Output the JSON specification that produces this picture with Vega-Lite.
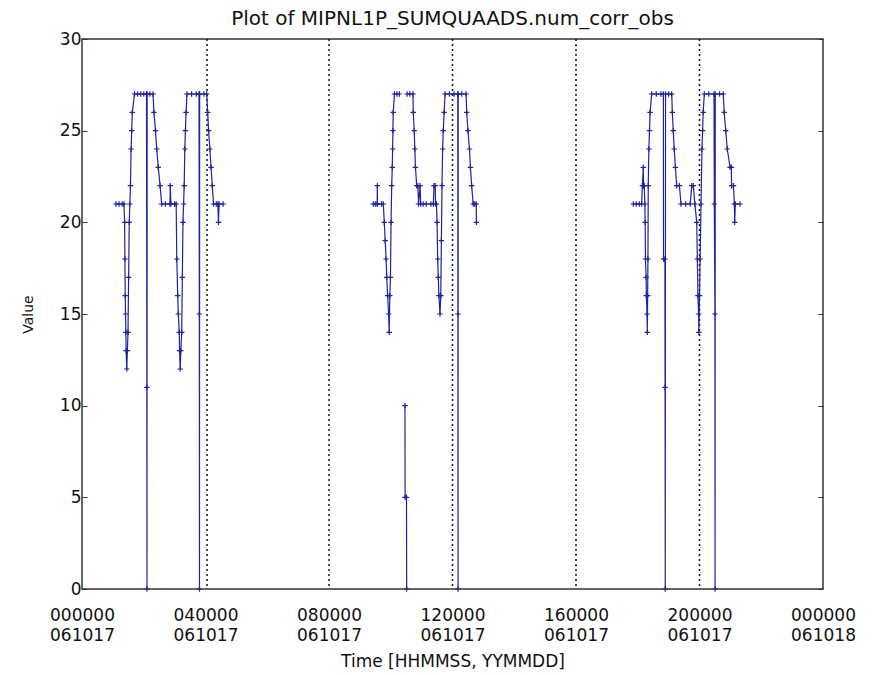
{
  "$schema": "https://vega.github.io/schema/vega-lite/v6.json",
  "width": 741,
  "height": 550,
  "autosize": {"type": "none"},
  "padding": {"left": 82, "top": 39, "right": 50, "bottom": 86},
  "background": "white",
  "title": {"text": "Plot of MIPNL1P_SUMQUAADS.num_corr_obs", "font": "DejaVu Sans", "fontSize": 20, "fontWeight": "normal", "color": "#111111", "offset": 1},
  "config": {
    "view": {"stroke": "#333333", "strokeWidth": 1.5},
    "axis": {"grid": false, "domain": false, "labelFont": "DejaVu Sans", "titleFont": "DejaVu Sans", "labelColor": "#111111", "titleColor": "#111111", "tickColor": "#333333", "titleFontWeight": "normal"}
  },
  "datasets": {
    "series": [
      {"h": 1.10, "v": 21, "s": "A"}, {"h": 1.20, "v": 21, "s": "A"}, {"h": 1.30, "v": 21, "s": "A"}, {"h": 1.36, "v": 21, "s": "A"},
      {"h": 1.38, "v": 20, "s": "A"}, {"h": 1.39, "v": 18, "s": "A"}, {"h": 1.40, "v": 16, "s": "A"}, {"h": 1.41, "v": 15, "s": "A"},
      {"h": 1.42, "v": 14, "s": "A"}, {"h": 1.43, "v": 13, "s": "A"}, {"h": 1.45, "v": 12, "s": "A"}, {"h": 1.47, "v": 13, "s": "A"},
      {"h": 1.49, "v": 14, "s": "A"}, {"h": 1.51, "v": 17, "s": "A"}, {"h": 1.53, "v": 20, "s": "A"}, {"h": 1.55, "v": 21, "s": "A"},
      {"h": 1.57, "v": 22, "s": "A"}, {"h": 1.59, "v": 24, "s": "A"}, {"h": 1.61, "v": 25, "s": "A"}, {"h": 1.63, "v": 26, "s": "A"},
      {"h": 1.70, "v": 27, "s": "A"}, {"h": 1.80, "v": 27, "s": "A"}, {"h": 1.90, "v": 27, "s": "A"}, {"h": 2.00, "v": 27, "s": "A"},
      {"h": 2.09, "v": 27, "s": "A"}, {"h": 2.10, "v": 11, "s": "A"}, {"h": 2.105, "v": 0, "s": "A"}, {"h": 2.11, "v": 27, "s": "A"},
      {"h": 2.20, "v": 27, "s": "A"}, {"h": 2.30, "v": 27, "s": "A"}, {"h": 2.33, "v": 26, "s": "A"}, {"h": 2.38, "v": 25, "s": "A"},
      {"h": 2.42, "v": 24, "s": "A"}, {"h": 2.47, "v": 23, "s": "A"}, {"h": 2.53, "v": 22, "s": "A"}, {"h": 2.58, "v": 21, "s": "A"},
      {"h": 2.70, "v": 21, "s": "A"}, {"h": 2.85, "v": 21, "s": "A"}, {"h": 2.86, "v": 22, "s": "A"}, {"h": 2.88, "v": 21, "s": "A"},
      {"h": 3.00, "v": 21, "s": "A"}, {"h": 3.05, "v": 21, "s": "A"}, {"h": 3.07, "v": 18, "s": "A"}, {"h": 3.10, "v": 16, "s": "A"},
      {"h": 3.12, "v": 15, "s": "A"}, {"h": 3.15, "v": 14, "s": "A"}, {"h": 3.16, "v": 13, "s": "A"}, {"h": 3.18, "v": 12, "s": "A"},
      {"h": 3.20, "v": 13, "s": "A"}, {"h": 3.23, "v": 14, "s": "A"}, {"h": 3.25, "v": 17, "s": "A"}, {"h": 3.27, "v": 20, "s": "A"},
      {"h": 3.29, "v": 21, "s": "A"}, {"h": 3.31, "v": 22, "s": "A"}, {"h": 3.33, "v": 24, "s": "A"}, {"h": 3.35, "v": 25, "s": "A"},
      {"h": 3.37, "v": 26, "s": "A"}, {"h": 3.40, "v": 27, "s": "A"}, {"h": 3.55, "v": 27, "s": "A"}, {"h": 3.70, "v": 27, "s": "A"},
      {"h": 3.79, "v": 27, "s": "A"}, {"h": 3.80, "v": 15, "s": "A"}, {"h": 3.805, "v": 0, "s": "A"}, {"h": 3.81, "v": 27, "s": "A"},
      {"h": 3.95, "v": 27, "s": "A"}, {"h": 4.04, "v": 27, "s": "A"}, {"h": 4.07, "v": 26, "s": "A"}, {"h": 4.10, "v": 25, "s": "A"},
      {"h": 4.14, "v": 24, "s": "A"}, {"h": 4.18, "v": 23, "s": "A"}, {"h": 4.22, "v": 22, "s": "A"}, {"h": 4.26, "v": 21, "s": "A"},
      {"h": 4.35, "v": 21, "s": "A"}, {"h": 4.40, "v": 21, "s": "A"}, {"h": 4.42, "v": 20, "s": "A"}, {"h": 4.44, "v": 21, "s": "A"},
      {"h": 4.57, "v": 21, "s": "A"},
      {"h": 9.435, "v": 21, "s": "B1"}, {"h": 9.50, "v": 21, "s": "B1"}, {"h": 9.56, "v": 21, "s": "B1"}, {"h": 9.565, "v": 22, "s": "B1"},
      {"h": 9.57, "v": 21, "s": "B1"}, {"h": 9.70, "v": 21, "s": "B1"}, {"h": 9.76, "v": 21, "s": "B1"}, {"h": 9.79, "v": 20, "s": "B1"},
      {"h": 9.82, "v": 19, "s": "B1"}, {"h": 9.85, "v": 18, "s": "B1"}, {"h": 9.87, "v": 17, "s": "B1"}, {"h": 9.90, "v": 16, "s": "B1"},
      {"h": 9.93, "v": 15, "s": "B1"}, {"h": 9.95, "v": 14, "s": "B1"}, {"h": 9.97, "v": 16, "s": "B1"}, {"h": 9.99, "v": 17, "s": "B1"},
      {"h": 10.01, "v": 20, "s": "B1"}, {"h": 10.03, "v": 22, "s": "B1"}, {"h": 10.05, "v": 23, "s": "B1"}, {"h": 10.06, "v": 24, "s": "B1"},
      {"h": 10.07, "v": 25, "s": "B1"}, {"h": 10.08, "v": 26, "s": "B1"}, {"h": 10.12, "v": 27, "s": "B1"}, {"h": 10.20, "v": 27, "s": "B1"},
      {"h": 10.28, "v": 27, "s": "B1"},
      {"h": 10.46, "v": 10, "s": "B2"}, {"h": 10.465, "v": 5, "s": "B2"}, {"h": 10.51, "v": 5, "s": "B2"}, {"h": 10.516, "v": 0, "s": "B2"},
      {"h": 10.53, "v": 27, "s": "B3"}, {"h": 10.62, "v": 27, "s": "B3"}, {"h": 10.72, "v": 27, "s": "B3"}, {"h": 10.73, "v": 26, "s": "B3"},
      {"h": 10.76, "v": 25, "s": "B3"}, {"h": 10.78, "v": 24, "s": "B3"}, {"h": 10.80, "v": 23, "s": "B3"}, {"h": 10.84, "v": 22, "s": "B3"},
      {"h": 10.88, "v": 22, "s": "B3"}, {"h": 10.90, "v": 21, "s": "B3"}, {"h": 10.95, "v": 22, "s": "B3"}, {"h": 10.97, "v": 21, "s": "B3"},
      {"h": 11.05, "v": 21, "s": "B3"}, {"h": 11.15, "v": 21, "s": "B3"}, {"h": 11.30, "v": 21, "s": "B3"}, {"h": 11.38, "v": 21, "s": "B3"},
      {"h": 11.40, "v": 22, "s": "B3"}, {"h": 11.44, "v": 22, "s": "B3"}, {"h": 11.45, "v": 21, "s": "B3"}, {"h": 11.48, "v": 21, "s": "B3"},
      {"h": 11.50, "v": 20, "s": "B3"}, {"h": 11.52, "v": 18, "s": "B3"}, {"h": 11.54, "v": 17, "s": "B3"}, {"h": 11.56, "v": 16, "s": "B3"},
      {"h": 11.595, "v": 15, "s": "B3"}, {"h": 11.62, "v": 16, "s": "B3"}, {"h": 11.64, "v": 19, "s": "B3"}, {"h": 11.66, "v": 22, "s": "B3"},
      {"h": 11.68, "v": 24, "s": "B3"}, {"h": 11.70, "v": 25, "s": "B3"}, {"h": 11.73, "v": 26, "s": "B3"}, {"h": 11.76, "v": 27, "s": "B3"},
      {"h": 11.90, "v": 27, "s": "B3"}, {"h": 12.05, "v": 27, "s": "B3"}, {"h": 12.17, "v": 27, "s": "B3"}, {"h": 12.175, "v": 15, "s": "B3"},
      {"h": 12.18, "v": 0, "s": "B3"}, {"h": 12.185, "v": 27, "s": "B3"}, {"h": 12.30, "v": 27, "s": "B3"}, {"h": 12.44, "v": 27, "s": "B3"},
      {"h": 12.46, "v": 26, "s": "B3"}, {"h": 12.50, "v": 25, "s": "B3"}, {"h": 12.55, "v": 24, "s": "B3"}, {"h": 12.58, "v": 23, "s": "B3"},
      {"h": 12.62, "v": 22, "s": "B3"}, {"h": 12.67, "v": 21, "s": "B3"}, {"h": 12.72, "v": 21, "s": "B3"}, {"h": 12.77, "v": 21, "s": "B3"},
      {"h": 12.775, "v": 20, "s": "B3"},
      {"h": 17.856, "v": 21, "s": "C"}, {"h": 17.95, "v": 21, "s": "C"}, {"h": 18.05, "v": 21, "s": "C"}, {"h": 18.126, "v": 21, "s": "C"},
      {"h": 18.15, "v": 22, "s": "C"}, {"h": 18.18, "v": 23, "s": "C"}, {"h": 18.19, "v": 22, "s": "C"}, {"h": 18.21, "v": 22, "s": "C"},
      {"h": 18.23, "v": 21, "s": "C"}, {"h": 18.24, "v": 20, "s": "C"}, {"h": 18.25, "v": 18, "s": "C"}, {"h": 18.27, "v": 17, "s": "C"},
      {"h": 18.28, "v": 16, "s": "C"}, {"h": 18.30, "v": 15, "s": "C"}, {"h": 18.31, "v": 14, "s": "C"}, {"h": 18.32, "v": 16, "s": "C"},
      {"h": 18.33, "v": 18, "s": "C"}, {"h": 18.34, "v": 22, "s": "C"}, {"h": 18.36, "v": 24, "s": "C"}, {"h": 18.38, "v": 25, "s": "C"},
      {"h": 18.40, "v": 26, "s": "C"}, {"h": 18.45, "v": 27, "s": "C"}, {"h": 18.60, "v": 27, "s": "C"}, {"h": 18.75, "v": 27, "s": "C"},
      {"h": 18.83, "v": 27, "s": "C"}, {"h": 18.835, "v": 18, "s": "C"}, {"h": 18.88, "v": 18, "s": "C"}, {"h": 18.885, "v": 11, "s": "C"},
      {"h": 18.89, "v": 0, "s": "C"}, {"h": 18.90, "v": 27, "s": "C"}, {"h": 19.00, "v": 27, "s": "C"}, {"h": 19.10, "v": 27, "s": "C"},
      {"h": 19.12, "v": 26, "s": "C"}, {"h": 19.15, "v": 25, "s": "C"}, {"h": 19.18, "v": 24, "s": "C"}, {"h": 19.22, "v": 23, "s": "C"},
      {"h": 19.26, "v": 22, "s": "C"}, {"h": 19.35, "v": 22, "s": "C"}, {"h": 19.40, "v": 21, "s": "C"}, {"h": 19.55, "v": 21, "s": "C"},
      {"h": 19.70, "v": 21, "s": "C"}, {"h": 19.75, "v": 22, "s": "C"}, {"h": 19.80, "v": 22, "s": "C"}, {"h": 19.85, "v": 21, "s": "C"},
      {"h": 19.91, "v": 20, "s": "C"}, {"h": 19.93, "v": 18, "s": "C"}, {"h": 19.95, "v": 16, "s": "C"}, {"h": 19.97, "v": 15, "s": "C"},
      {"h": 19.98, "v": 14, "s": "C"}, {"h": 20.00, "v": 16, "s": "C"}, {"h": 20.02, "v": 18, "s": "C"}, {"h": 20.05, "v": 21, "s": "C"},
      {"h": 20.08, "v": 24, "s": "C"}, {"h": 20.10, "v": 25, "s": "C"}, {"h": 20.12, "v": 26, "s": "C"}, {"h": 20.156, "v": 27, "s": "C"},
      {"h": 20.30, "v": 27, "s": "C"}, {"h": 20.47, "v": 27, "s": "C"}, {"h": 20.48, "v": 21, "s": "C"}, {"h": 20.50, "v": 15, "s": "C"},
      {"h": 20.505, "v": 0, "s": "C"}, {"h": 20.51, "v": 27, "s": "C"}, {"h": 20.65, "v": 27, "s": "C"}, {"h": 20.77, "v": 27, "s": "C"},
      {"h": 20.80, "v": 26, "s": "C"}, {"h": 20.85, "v": 25, "s": "C"}, {"h": 20.90, "v": 24, "s": "C"}, {"h": 20.99, "v": 23, "s": "C"},
      {"h": 21.03, "v": 23, "s": "C"}, {"h": 21.04, "v": 22, "s": "C"}, {"h": 21.10, "v": 22, "s": "C"}, {"h": 21.13, "v": 21, "s": "C"},
      {"h": 21.14, "v": 20, "s": "C"}, {"h": 21.16, "v": 21, "s": "C"}, {"h": 21.31, "v": 21, "s": "C"}
    ],
    "dividers": [{"h": 4.05}, {"h": 8.0}, {"h": 12.0}, {"h": 16.0}, {"h": 20.0}]
  },
  "resolve": {"axis": {"y": "independent"}},
  "layer": [
    {
      "data": {"name": "dividers"},
      "mark": {"type": "rule", "color": "#111111", "strokeDash": [2, 3], "strokeWidth": 1.5},
      "encoding": {
        "x": {"field": "h", "type": "quantitative", "scale": {"domain": [0, 24], "nice": false, "zero": false}}
      }
    },
    {
      "data": {"name": "series"},
      "mark": {"type": "line", "color": "#22229c", "strokeWidth": 1.2},
      "encoding": {
        "x": {"field": "h", "type": "quantitative", "scale": {"domain": [0, 24], "nice": false, "zero": false},
          "axis": {"values": [0, 4, 8, 12, 16, 20, 24], "labelExpr": "datum.value == 24 ? ['000000','061018'] : [(datum.value < 10 ? '0' : '') + datum.value + '0000', '061017']", "tickSize": 0, "labelPadding": 18, "labelFontSize": 17, "labelLineHeight": 20, "labelFlush": false, "title": "Time [HHMMSS, YYMMDD]", "titleFontSize": 17, "titlePadding": 10}},
        "y": {"field": "v", "type": "quantitative", "scale": {"domain": [0, 30], "nice": false},
          "axis": {"values": [0, 5, 10, 15, 20, 25, 30], "tickSize": -5, "labelPadding": 6, "labelFontSize": 17, "title": "Value", "titleFontSize": 14, "titlePadding": 24}},
        "detail": {"field": "s"}
      }
    },
    {
      "data": {"name": "series"},
      "mark": {"type": "point", "shape": "M-1,0H1M0,-1V1", "filled": false, "stroke": "#22229c", "strokeWidth": 1.2, "size": 30, "opacity": 1},
      "encoding": {
        "x": {"field": "h", "type": "quantitative", "scale": {"domain": [0, 24], "nice": false, "zero": false}},
        "y": {"field": "v", "type": "quantitative", "scale": {"domain": [0, 30], "nice": false},
          "axis": {"orient": "right", "values": [0, 5, 10, 15, 20, 25, 30], "tickSize": -5, "labels": false, "title": null}}
      }
    }
  ]
}
